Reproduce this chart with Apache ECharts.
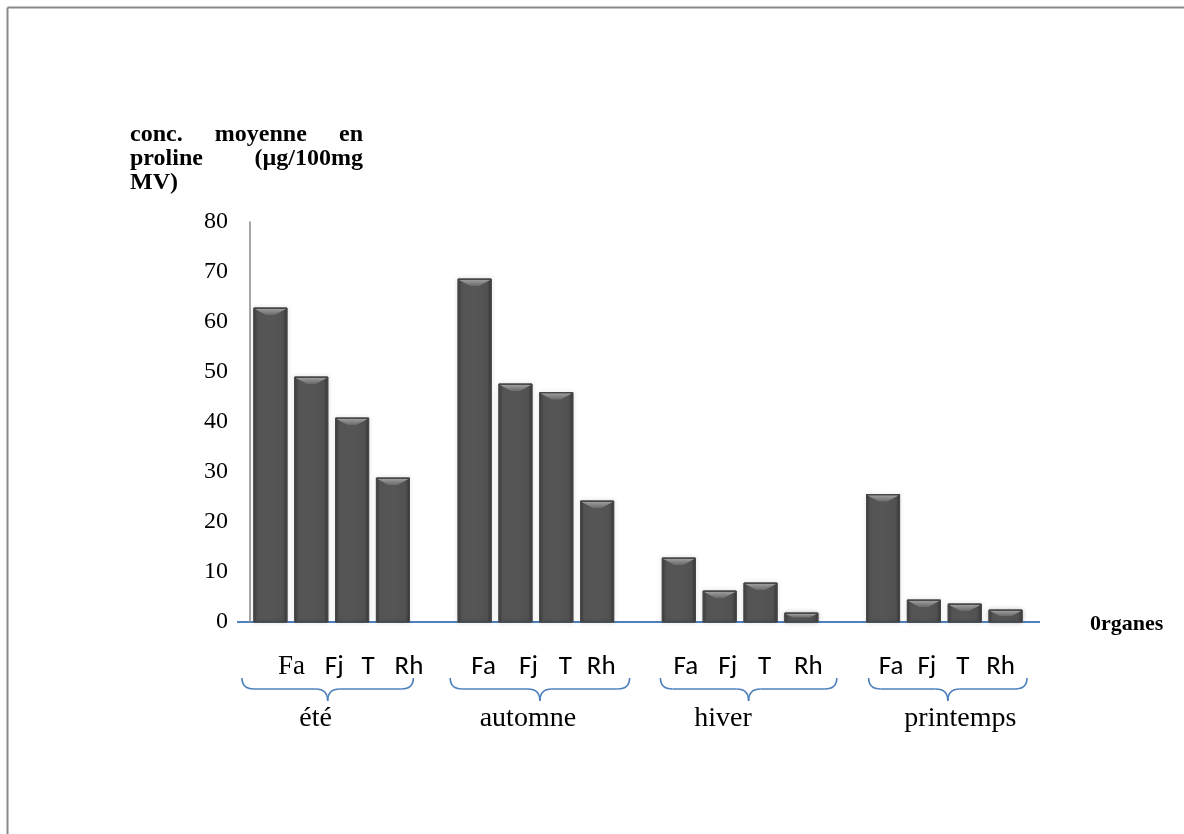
<!DOCTYPE html>
<html>
<head>
<meta charset="utf-8">
<script src="https://cdn.jsdelivr.net/npm/echarts@6/dist/echarts.min.js"></script>
<style>
  html, body { margin: 0; padding: 0; background: #fff; }
  #chart { width: 1184px; height: 834px; }
</style>
</head>
<body>
<div id="chart"></div>
<script>
// Proline concentration per organ and season
const organs = ['Fa', 'Fj', 'T', 'Rh'];
const seasons = ['été', 'automne', 'hiver', 'printemps'];
const ete = [62.8, 49.0, 40.8, 28.8];
const automne = [68.6, 47.6, 45.9, 24.2];
const hiver = [12.8, 6.2, 7.8, 1.8];
const printemps = [25.5, 4.4, 3.6, 2.4];
const yTicks = [0, 10, 20, 30, 40, 50, 60, 70, 80];
const yTitleLines = [['conc.', 'moyenne', 'en'], ['proline', '(µg/100mg'], ['MV)']];
const xTitle = '0rganes';

const seasonValues = [ete, automne, hiver, printemps];

// one category per bar, with an empty slot between seasons
const categories = [];
const barData = [];
seasons.forEach((s, i) => {
  organs.forEach((o, j) => {
    categories.push(s + '-' + o);
    barData.push([categories.length - 1, seasonValues[i][j]]);
  });
  if (i < seasons.length - 1) categories.push('gap-' + i);
});

const SERIF = '"Liberation Serif", "Times New Roman", serif';
const SANS = 'Carlito, Lato, "Open Sans", sans-serif';

const chart = echarts.init(document.getElementById('chart'), null, { renderer: 'canvas' });

function renderBar(params, api) {
  const v = api.value(1);
  if (v == null || isNaN(v)) return null;
  const base = api.coord([api.value(0), 0]);
  const top = api.coord([api.value(0), v]);
  const w = api.size([1, 0])[0] * 0.81;
  const x0 = top[0] - w / 2;
  const h = base[1] - top[1];
  const b = Math.min(7, h / 2);
  return {
    type: 'group',
    children: [
      {
        type: 'rect',
        shape: { x: x0, y: top[1], width: w, height: h },
        style: {
          fill: new echarts.graphic.LinearGradient(0, 0, 1, 0, [
            { offset: 0, color: '#3c3c3c' },
            { offset: 0.12, color: '#545454' },
            { offset: 0.5, color: '#565656' },
            { offset: 0.88, color: '#515151' },
            { offset: 1, color: '#363636' }
          ]),
          stroke: '#474747',
          lineWidth: 1,
          shadowBlur: 4,
          shadowColor: 'rgba(0,0,0,0.22)'
        }
      },
      {
        type: 'polygon',
        shape: {
          points: [
            [x0 + 1, top[1] + 1],
            [x0 + w - 1, top[1] + 1],
            [x0 + w - 1 - b * 1.6, top[1] + b],
            [x0 + 1 + b * 1.6, top[1] + b]
          ]
        },
        style: {
          fill: new echarts.graphic.LinearGradient(0, 0, 0, 1, [
            { offset: 0, color: '#9c9c9c' },
            { offset: 1, color: '#6a6a6a' }
          ])
        }
      }
    ]
  };
}

chart.setOption({
  animation: false,
  backgroundColor: '#ffffff',
  grid: { left: 250, right: 158, top: 222, bottom: 212, containLabel: false },
  xAxis: {
    type: 'category',
    data: categories,
    axisLine: { show: false },
    axisTick: { show: false },
    axisLabel: { show: false },
    splitLine: { show: false }
  },
  yAxis: {
    type: 'value',
    min: yTicks[0],
    max: yTicks[yTicks.length - 1],
    interval: 10,
    axisLine: { show: true, lineStyle: { color: '#888888', width: 1.5 } },
    axisTick: { show: false },
    splitLine: { show: false },
    axisLabel: {
      margin: 22,
      color: '#000',
      fontFamily: SERIF,
      fontSize: 24
    }
  },
  series: [{
    type: 'custom',
    renderItem: renderBar,
    data: barData,
    encode: { x: 0, y: 1 },
    clip: false
  }]
});

// decorations placed from the axis scales
const px = (cat) => chart.convertToPixel({ xAxisIndex: 0 }, cat);
const py = (val) => chart.convertToPixel({ yAxisIndex: 0 }, val);
const slot = px(1) - px(0);
const y0 = py(0);
const gridLeft = px(0) - slot / 2;
const gridRight = px(categories.length - 1) + slot / 2;

const graphics = [];
const lineEl = (x1, y1, x2, y2, color, width) =>
  ({ type: 'line', shape: { x1, y1, x2, y2 }, style: { stroke: color, lineWidth: width } });
const curveEl = (x1, y1, cpx1, cpy1, x2, y2, color, width) =>
  ({ type: 'bezierCurve', shape: { x1, y1, cpx1, cpy1, x2, y2 }, style: { stroke: color, lineWidth: width, fill: null } });

// frame (top and left edges)
graphics.push(lineEl(7.5, 7.5, 1184, 7.5, '#8a8a8a', 2));
graphics.push(lineEl(7.5, 7.5, 7.5, 834, '#8a8a8a', 2));

// horizontal axis line
graphics.push(lineEl(gridLeft - 13, y0, gridRight + 14, y0, '#4f81bd', 2));

// organ labels, brace and season name for each season group
const organShift = [[21, 23, 16, 16], [9, 13, 9, 4], [7, 8, 4, 7], [8, 3, -2, -5]];
const braceExt = [[-8, 0], [-4, 12], [2, 15], [6, 1]];
const seasonShift = [-16, -8, -17, 16];
const BRACE = '#4f81bd';
seasons.forEach((s, i) => {
  const first = i * 5;
  const last = first + organs.length - 1;
  organs.forEach((o, j) => {
    const cx = px(first + j) + organShift[i][j];
    graphics.push({
      type: 'text',
      style: {
        text: o,
        x: cx, y: y0 + 45,
        align: 'center', verticalAlign: 'middle',
        fontFamily: (i === 0 && j === 0) ? SERIF : SANS,
        fontSize: 27,
        fill: '#000'
      }
    });
  });
  const bl = px(first) - slot / 2 + braceExt[i][0];
  const br = px(last) + slot / 2 + braceExt[i][1];
  const bc = (bl + br) / 2;
  const yt = y0 + 56, ym = y0 + 67, yb = y0 + 79;
  const r = 12;
  graphics.push(curveEl(bl, yt, bl, ym, bl + r, ym, BRACE, 1.6));
  graphics.push(lineEl(bl + r, ym, bc - r, ym, BRACE, 1.6));
  graphics.push(curveEl(bc - r, ym, bc, ym, bc, yb, BRACE, 1.6));
  graphics.push(curveEl(bc, yb, bc, ym, bc + r, ym, BRACE, 1.6));
  graphics.push(lineEl(bc + r, ym, br - r, ym, BRACE, 1.6));
  graphics.push(curveEl(br - r, ym, br, ym, br, yt, BRACE, 1.6));
  const gc = (px(first + 1) + px(first + 2)) / 2 + seasonShift[i];
  graphics.push({
    type: 'text',
    style: {
      text: s,
      x: gc, y: y0 + 97,
      align: 'center', verticalAlign: 'middle',
      fontFamily: SERIF, fontSize: 28, fill: '#000'
    }
  });
});

// axis titles (vertical-axis title justified over three lines)
const titleFont = 'bold 24px ' + SERIF;
const measure = document.createElement('canvas').getContext('2d');
measure.font = titleFont;
const titleLeft = 130, titleRight = 363;
yTitleLines.forEach((words, li) => {
  const yLine = py(80) - 87 + li * 24;
  const widths = words.map(w => measure.measureText(w).width);
  const total = widths.reduce((a, b) => a + b, 0);
  const gap = words.length > 1 ? (titleRight - titleLeft - total) / (words.length - 1) : 0;
  let x = titleLeft;
  words.forEach((w, k) => {
    graphics.push({
      type: 'text',
      style: { text: w, x: x, y: yLine, align: 'left', verticalAlign: 'middle', font: titleFont, fill: '#000' }
    });
    x += widths[k] + gap;
  });
});
graphics.push({
  type: 'text',
  style: { text: xTitle, x: gridRight + 64, y: y0 + 2, align: 'left', verticalAlign: 'middle', font: 'bold 22px ' + SERIF, fill: '#000' }
});

chart.setOption({ graphic: graphics });
</script>
</body>
</html>
